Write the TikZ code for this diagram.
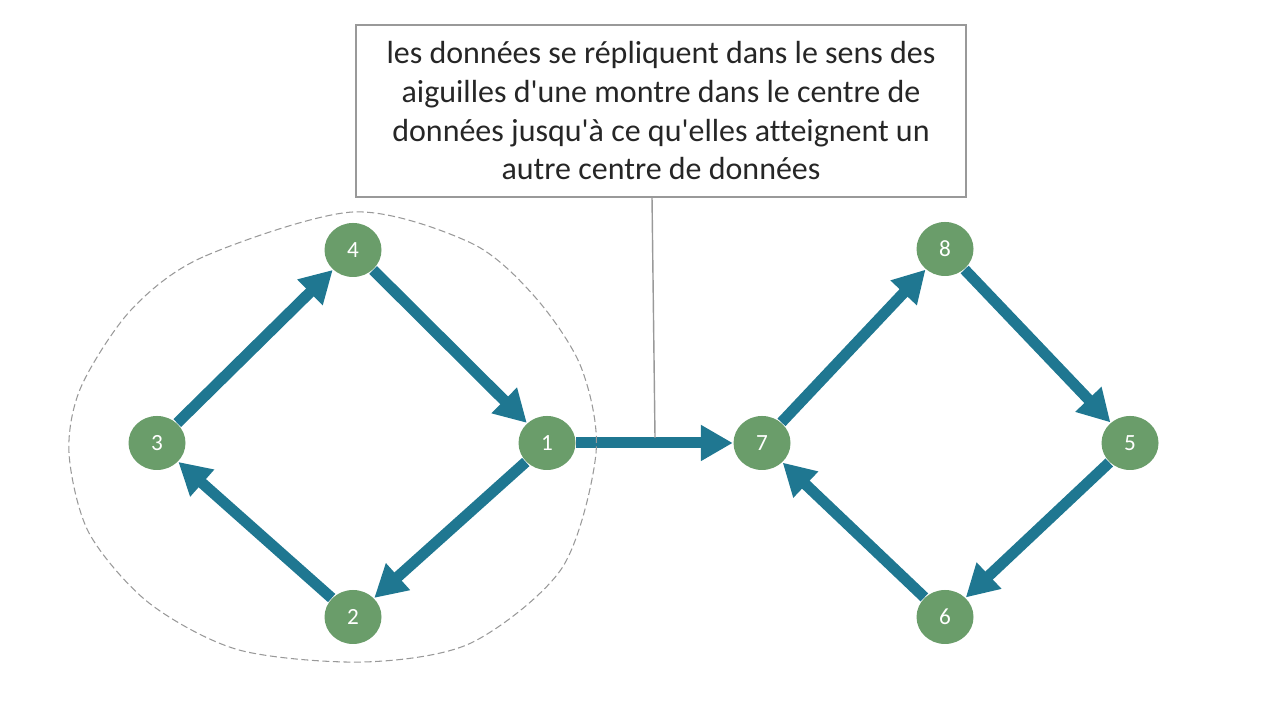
\documentclass[tikz,border=0pt]{standalone}
\usepackage{fontspec}
\setmainfont{Carlito}[Ligatures=NoCommon]
\usetikzlibrary{arrows.meta,shapes.geometric}

\definecolor{dcgreen}{HTML}{6A9D6A}
\definecolor{replteal}{HTML}{1F7791}

\begin{document}
\begin{tikzpicture}[
  dcnode/.style={ellipse, fill=dcgreen, text=white, minimum width=0.57cm,
    minimum height=0.54cm, inner sep=0pt, font=\fontsize{6.6}{7}\selectfont},
  repl/.style={draw=replteal, line width=0.11cm,
    -{Triangle[length=0.32cm,width=0.34cm]}},
]
  \useasboundingbox (0,0) rectangle (12.8,7.2);

  % first data centre
  \node[dcnode] (n4) at (3.53,4.70) {4};
  \node[dcnode] (n3) at (1.57,2.77) {3};
  \node[dcnode] (n1) at (5.47,2.77) {1};
  \node[dcnode] (n2) at (3.53,1.03) {2};

  % second data centre
  \node[dcnode] (n8) at (9.45,4.71) {8};
  \node[dcnode] (n7) at (7.62,2.77) {7};
  \node[dcnode] (n5) at (11.30,2.77) {5};
  \node[dcnode] (n6) at (9.45,1.03) {6};

  % clockwise replication
  \draw[repl] (n3) -- (n4);
  \draw[repl] (n4) -- (n1);
  \draw[repl] (n1) -- (n2);
  \draw[repl] (n2) -- (n3);

  \draw[repl] (n7) -- (n8);
  \draw[repl] (n8) -- (n5);
  \draw[repl] (n5) -- (n6);
  \draw[repl] (n6) -- (n7);

  % hop to the other data centre
  \draw[repl] (n1) -- (n7);

  % dashed boundary of the first data centre
  \draw[gray!80, line width=0.3pt, dash pattern=on 2pt off 1pt]
    plot[smooth cycle] coordinates {
      (3.53,5.08) (2.03,4.63) (1.31,4.10) (0.81,3.33) (0.69,2.67)
      (0.89,1.87) (1.49,1.17) (2.39,0.70) (3.64,0.58) (4.71,0.77)
      (5.62,1.52) (5.96,2.67) (5.81,3.53) (5.35,4.23) (4.71,4.77)};

  % callout
  \node[draw=gray!80, line width=0.4pt, minimum width=6.10cm, minimum height=1.72cm,
    align=center, font=\fontsize{9.1}{11}\selectfont, text=black!85] (note) at (6.61,6.09)
    {les données se répliquent dans le sens des\\
     aiguilles d\textquotesingle une montre dans le centre de\\
     données jusqu\textquotesingle à ce qu\textquotesingle elles atteignent un\\
     autre centre de données};
  \coordinate (pin) at (6.55,2.82);
  \draw[gray!80, line width=0.4pt] ([xshift=-0.09cm]note.south) -- (pin);
\end{tikzpicture}
\end{document}
